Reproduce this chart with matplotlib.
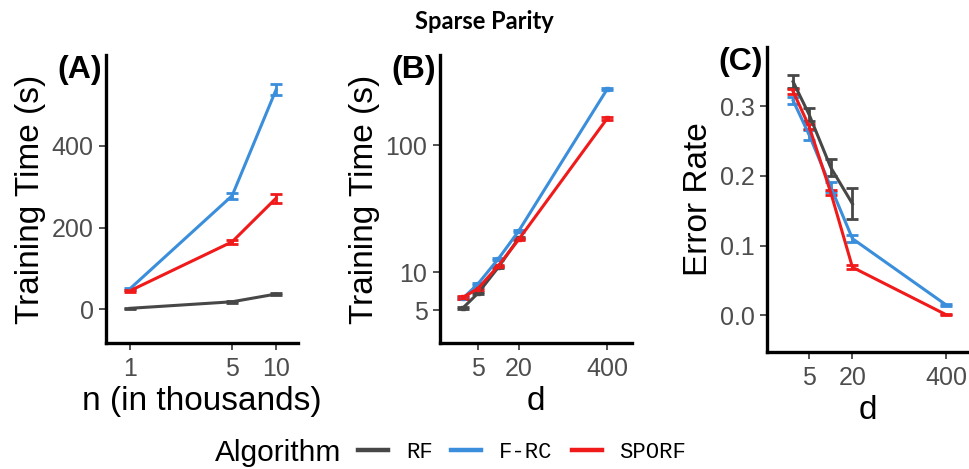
import matplotlib
matplotlib.use("Agg")
import matplotlib.pyplot as plt
from matplotlib.lines import Line2D
import numpy as np

RF_COLOR = "#474747"
FRC_COLOR = "#3A8EDB"
SPORF_COLOR = "#F01A1A"

# panel A: training time vs n (thousands)
n_vals = [1, 5, 10]
a_rf = [2, 18, 37]
a_rf_err = [1, 2, 2]
a_frc = [50, 278, 538]
a_frc_err = [3, 7, 14]
a_sporf = [45, 165, 272]
a_sporf_err = [3, 5, 11]

# panel B: training time vs d
d_vals = [3, 5, 10, 20, 400]
d_rf = [3, 5, 10, 20]
b_rf = [5.2, 6.8, 10.9, 18.5]
b_frc = [6.2, 8.05, 12.7, 21.1, 276]
b_sporf = [6.3, 7.4, 11.2, 18.1, 162]

# panel C: error rate vs d
c_rf = [0.335, 0.288, 0.212, 0.160]
c_rf_err = [0.009, 0.010, 0.012, 0.022]
c_frc = [0.308, 0.259, 0.184, 0.110, 0.015]
c_frc_err = [0.005, 0.007, 0.007, 0.005, 0.002]
c_sporf = [0.321, 0.271, 0.176, 0.069, 0.001]
c_sporf_err = [0.003, 0.004, 0.004, 0.003, 0.001]

plt.rcParams["font.family"] = ["Liberation Sans", "DejaVu Sans"]

fig = plt.figure(figsize=(9.69, 4.69), dpi=100)
axA = fig.add_axes([0.1094, 0.2687, 0.198, 0.614])
axB = fig.add_axes([0.454, 0.2687, 0.198, 0.614])
axC = fig.add_axes([0.7915, 0.2501, 0.2085, 0.650])

lw = 2.2
eb = dict(capsize=4, elinewidth=2, capthick=2, lw=lw)

axA.errorbar(n_vals, a_rf, yerr=a_rf_err, color=RF_COLOR, **eb)
axA.errorbar(n_vals, a_frc, yerr=a_frc_err, color=FRC_COLOR, **eb)
axA.errorbar(n_vals, a_sporf, yerr=a_sporf_err, color=SPORF_COLOR, **eb)
axA.set_xscale("log")
axA.set_xlim(0.685, 14.1)
axA.set_ylim(-83, 623)
axA.set_xticks(n_vals)
axA.set_xticklabels(["1", "5", "10"])
axA.set_yticks([0, 200, 400])
axA.minorticks_off()
axA.set_xlabel("n (in thousands)")
axA.set_ylabel("Training Time (s)")

for vals, col, dv in [(b_rf, RF_COLOR, d_rf), (b_frc, FRC_COLOR, d_vals),
                      (b_sporf, SPORF_COLOR, d_vals)]:
    axB.errorbar(dv, vals, yerr=[v * 0.02 for v in vals], color=col,
                 marker="s", ms=3.5, **eb)
axB.set_xscale("log")
axB.set_yscale("log")
axB.set_xlim(1.38, 920)
axB.set_ylim(2.76, 512)
axB.set_xticks([5, 20, 400])
axB.set_xticklabels(["5", "20", "400"])
axB.set_yticks([5, 10, 100])
axB.set_yticklabels(["5", "10", "100"])
axB.minorticks_off()
axB.set_xlabel("d")
axB.set_ylabel("Training Time (s)")

axC.errorbar(d_rf, c_rf, yerr=c_rf_err, color=RF_COLOR, **eb)
axC.errorbar(d_vals, c_frc, yerr=c_frc_err, color=FRC_COLOR, **eb)
axC.errorbar(d_vals, c_sporf, yerr=c_sporf_err, color=SPORF_COLOR, **eb)
axC.set_xscale("log")
axC.set_xlim(1.3, 830)
axC.set_ylim(-0.052, 0.385)
axC.set_xticks([5, 20, 400])
axC.set_xticklabels(["5", "20", "400"])
axC.set_yticks([0.0, 0.1, 0.2, 0.3])
axC.set_yticklabels(["0.0", "0.1", "0.2", "0.3"])
axC.minorticks_off()
axC.set_xlabel("d")
axC.set_ylabel("Error Rate")

for ax, lab in [(axA, "(A)"), (axB, "(B)"), (axC, "(C)")]:
    for s in ["top", "right"]:
        ax.spines[s].set_visible(False)
    for s in ["left", "bottom"]:
        ax.spines[s].set_linewidth(2.4)
    ax.tick_params(axis="both", which="both", labelsize=18, labelcolor="#4D4D4D",
                   color="#333333", length=5, width=1.2)
    ax.tick_params(axis="x", pad=5)
    ax.tick_params(axis="y", pad=4)
    ax.xaxis.label.set_size(24)
    ax.yaxis.label.set_size(24)
    ax.text(-0.02, 1.0, lab, transform=ax.transAxes, ha="right", va="top",
            fontsize=23, fontweight="bold")

fig.text(0.5, 0.955, "Sparse Parity", ha="center", va="center",
         fontsize=17, fontweight="bold", family=["Lato", "DejaVu Sans"])

fig.text(0.222, 0.034, "Algorithm", ha="left", va="center", fontsize=21.5)
handles = [Line2D([], [], color=RF_COLOR, lw=3.2),
           Line2D([], [], color=FRC_COLOR, lw=3.2),
           Line2D([], [], color=SPORF_COLOR, lw=3.2)]
fig.legend(handles, ["RF", "F-RC", "SPORF"], loc="center left",
           bbox_to_anchor=(0.3695, 0.036), ncol=3, frameon=False,
           prop={"family": "Liberation Mono", "size": 16},
           borderpad=0, borderaxespad=0,
           handlelength=1.35, columnspacing=0.85, handletextpad=0.8)

fig.savefig("out.png", dpi=100)
